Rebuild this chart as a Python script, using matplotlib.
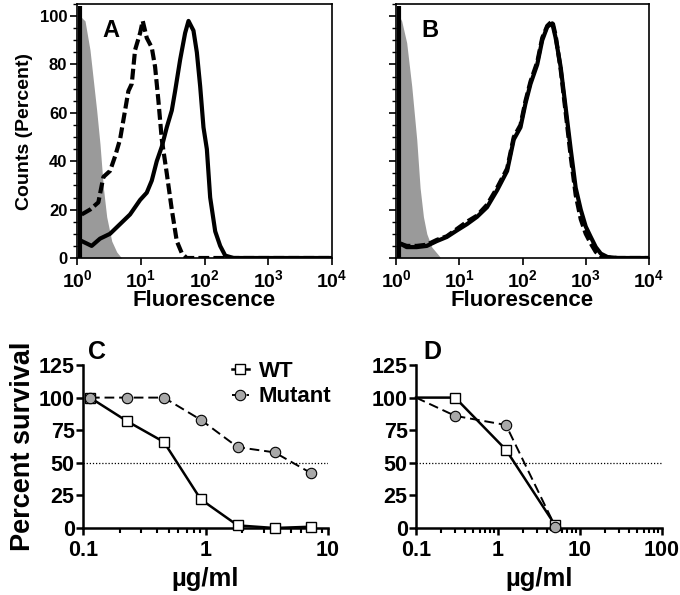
import matplotlib
matplotlib.use("Agg")
import matplotlib.pyplot as plt
import numpy as np
from matplotlib.ticker import FixedLocator, FixedFormatter, LogLocator, NullFormatter, AutoMinorLocator

plt.rcParams['font.family'] = ['Liberation Sans', 'DejaVu Sans']
plt.rcParams['font.weight'] = 'bold'
plt.rcParams['mathtext.fontset'] = 'custom'
plt.rcParams['mathtext.rm'] = 'Liberation Sans:bold'
plt.rcParams['mathtext.it'] = 'Liberation Sans:bold'
plt.rcParams['mathtext.bf'] = 'Liberation Sans:bold'
plt.rcParams['mathtext.default'] = 'bf'

# ---------------- Data: flow cytometry histograms (log10 fluorescence, percent) ----------------
a_gray_log = [0.05, 0.126, 0.204, 0.309, 0.361, 0.414, 0.466, 0.545, 0.623, 0.70]
a_gray_pct = [100, 98, 86, 61, 47, 29, 17, 7, 2.5, 0]

a_dash_log = [0.073, 0.204, 0.335, 0.414, 0.518, 0.597, 0.675, 0.754, 0.806, 0.859, 0.911,
              0.99, 1.031, 1.094, 1.173, 1.225, 1.277, 1.33, 1.408, 1.487, 1.565, 1.644,
              1.72, 2.5, 3.3, 4.0]
a_dash_pct = [18, 20, 23, 33.5, 36, 42, 49, 61, 69, 72, 86,
              93, 98, 91, 87, 79, 65, 49, 35, 20, 7, 2,
              0, 0, 0, 0]

a_solid_log = [0.073, 0.152, 0.23, 0.361, 0.518, 0.675, 0.832, 0.99, 1.094, 1.173, 1.251,
               1.33, 1.408, 1.487, 1.539, 1.618, 1.696, 1.749, 1.827, 1.88, 1.932, 1.984,
               2.037, 2.089, 2.168, 2.246, 2.325, 2.455, 3.3, 4.0]
a_solid_pct = [7, 6, 5, 8, 10, 14, 18, 24, 27, 32, 40,
               46, 54, 61, 69, 82, 93, 98, 94, 85, 71, 54,
               45, 25, 11, 5, 1, 0, 0, 0]

b_gray_log = [0.05, 0.09, 0.169, 0.249, 0.328, 0.381, 0.434, 0.487, 0.566, 0.698]
b_gray_pct = [100, 98, 89, 71, 49, 29, 17, 10, 4.5, 0.4]

b_log = [0.063, 0.169, 0.328, 0.487, 0.646, 0.804, 0.963, 1.122, 1.28, 1.439, 1.598,
         1.757, 1.862, 1.968, 2.048, 2.127, 2.233, 2.312, 2.392, 2.471, 2.524, 2.603,
         2.683, 2.762, 2.841, 2.921, 3.0, 3.079, 3.159, 3.238, 3.344, 3.503, 4.0]
b_solid_pct = [6, 4.5, 4.5, 5, 7, 8.7, 11.4, 14, 17, 21, 28,
               36, 49, 54, 64, 72, 80, 90, 95.6, 97, 91, 79,
               62, 45, 29, 20, 13, 8.7, 4.5, 1.8, 0.4, 0, 0]
b_dash_pct = [6, 5, 5, 5.5, 7.5, 9, 12, 15, 17.5, 22, 29,
              37, 50, 55, 65, 73, 81, 91, 96, 98, 92, 78,
              60, 42, 26, 16, 10, 6, 2.5, 0.8, 0.2, 0, 0]

spike_log = 0.04
spike_top = 104

flu_ticks = [1, 10, 100, 1000, 10000]
flu_labels = [r'$\mathbf{10^{0}}$', r'$\mathbf{10^{1}}$', r'$\mathbf{10^{2}}$',
              r'$\mathbf{10^{3}}$', r'$\mathbf{10^{4}}$']
pct_ticks = [0, 20, 40, 60, 80, 100]

# ---------------- Data: survival curves ----------------
c_conc = [0.114, 0.228, 0.457, 0.914, 1.83, 3.66, 7.3]
c_wt = [100, 82, 66, 22, 2, 0, 1]
c_mut = [100, 100, 100, 83, 62, 58, 42]

d_conc = [0.1, 0.3, 1.25, 5.0]
d_wt = [100, 100, 60, 2]
d_mut = [100, 86, 79, 1]

surv_ticks = [0, 25, 50, 75, 100, 125]
c_xticks = [0.1, 1, 10]
c_xlabels = ['0.1', '1', '10']
d_xticks = [0.1, 1, 10, 100]
d_xlabels = ['0.1', '1', '10', '100']

W, H = 680, 595
fig = plt.figure(figsize=(W / 100, H / 100), dpi=100)


def ax_px(x0, x1, ybot, ytop):
    return fig.add_axes([x0 / W, (H - ybot) / H, (x1 - x0) / W, (ybot - ytop) / H])


GRAY = '#9a9a9a'


def hist_panel(ax, gray_log, gray_pct, series, label, show_ylabels):
    ax.set_xscale('log')
    ax.fill_between(10 ** np.array(gray_log), gray_pct, 0, color=GRAY, lw=0, zorder=1)
    for lg, pct, ls in series:
        ax.plot(10 ** np.array(lg), pct, color='black', lw=3.0, ls=ls,
                dashes=(2.6, 1.0) if ls == '--' else (None, None), zorder=3)
    ax.vlines(10 ** spike_log, 0, spike_top, color='black', lw=3.0, zorder=4)
    ax.set_xlim(1, 10000)
    ax.set_ylim(0, 105)
    ax.xaxis.set_major_locator(FixedLocator(flu_ticks))
    ax.xaxis.set_major_formatter(FixedFormatter(flu_labels))
    ax.xaxis.set_minor_locator(LogLocator(base=10, subs=np.arange(2, 10)))
    ax.xaxis.set_minor_formatter(NullFormatter())
    ax.yaxis.set_major_locator(FixedLocator(pct_ticks))
    ax.yaxis.set_minor_locator(AutoMinorLocator(4))
    ax.tick_params(which='major', direction='out', length=5, width=1.2, labelsize=12, pad=2)
    ax.tick_params(which='minor', direction='out', length=3, width=1.0)
    ax.tick_params(axis='x', labelsize=14, pad=3)
    if not show_ylabels:
        ax.set_yticklabels([])
    for s in ax.spines.values():
        s.set_linewidth(1.2)
    ax.text(0.1, 0.94, label, transform=ax.transAxes, fontsize=17, fontweight='bold',
            ha='left', va='top')
    ax.set_xlabel('Fluorescence', fontsize=16, fontweight='bold', labelpad=-1)


axA = ax_px(77, 332, 258, 4)
hist_panel(axA, a_gray_log, a_gray_pct,
           [(a_dash_log, a_dash_pct, '--'), (a_solid_log, a_solid_pct, '-')], 'A', True)
axA.set_ylabel('Counts (Percent)', fontsize=14, fontweight='bold', labelpad=5)

axB = ax_px(396, 649, 258, 4)
hist_panel(axB, b_gray_log, b_gray_pct,
           [(b_log, b_dash_pct, '--'), (b_log, b_solid_pct, '-')], 'B', False)

xlabel_off = {'C': 0.02, 'D': 0.03}


def surv_panel(ax, xlim, xticks, xlabels, label):
    ax.set_xscale('log')
    ax.set_xlim(*xlim)
    ax.set_ylim(0, 125)
    ax.axhline(50, color='black', lw=0.9, ls=(0, (1, 1.5)), zorder=1)
    ax.spines['top'].set_visible(False)
    ax.spines['right'].set_visible(False)
    for s in ('left', 'bottom'):
        ax.spines[s].set_linewidth(1.8)
    ax.xaxis.set_major_locator(FixedLocator(xticks))
    ax.xaxis.set_major_formatter(FixedFormatter(xlabels))
    ax.xaxis.set_minor_locator(LogLocator(base=10, subs=np.arange(2, 10)))
    ax.xaxis.set_minor_formatter(NullFormatter())
    ax.yaxis.set_major_locator(FixedLocator(surv_ticks))
    ax.tick_params(which='major', direction='out', length=5, width=1.8, labelsize=15.5)
    ax.tick_params(axis='y', pad=1)
    ax.tick_params(axis='x', pad=4)
    ax.tick_params(which='minor', direction='out', length=3.5, width=1.5)
    ax.set_xlabel('µg/ml', fontsize=18.5, fontweight='bold', labelpad=4)
    ax.text(xlabel_off[label], 1.155, label, transform=ax.transAxes, fontsize=18,
            fontweight='bold', ha='left', va='top')


axC = ax_px(83, 328, 528, 365)
surv_panel(axC, (0.1, 10), c_xticks, c_xlabels, 'C')
axC.plot(c_conc, c_wt, color='black', lw=1.8, marker='s', ms=6.5, mfc='white',
         mec='black', mew=1.0, label='WT', zorder=3, clip_on=False)
axC.plot(c_conc, c_mut, color='black', lw=1.4, ls=(0, (5, 2.5)), marker='o', ms=7.5,
         mfc='#a8a8a8', mec='black', mew=0.8, label='Mutant', zorder=4, clip_on=False)
leg = axC.legend(loc='upper right', bbox_to_anchor=(1.05, 1.08), frameon=False,
                 handlelength=0.75, handletextpad=0.45, labelspacing=0.2,
                 borderaxespad=0.0, prop={'weight': 'bold', 'size': 16})
axC.set_ylabel('Percent survival', fontsize=19.5, fontweight='bold', labelpad=2)

axD = ax_px(416, 662, 528, 365)
surv_panel(axD, (0.1, 100), d_xticks, d_xlabels, 'D')
axD.plot(d_conc, d_wt, color='black', lw=1.8, marker='s', ms=6.5, mfc='white',
         mec='black', mew=1.0, markevery=[1, 2, 3], zorder=3, clip_on=False)
axD.plot(d_conc, d_mut, color='black', lw=1.4, ls=(0, (5, 2.5)), marker='o', ms=7.5,
         mfc='#a8a8a8', mec='black', mew=0.8, markevery=[1, 2, 3], zorder=4, clip_on=False)

fig.savefig('out.png', dpi=100)
